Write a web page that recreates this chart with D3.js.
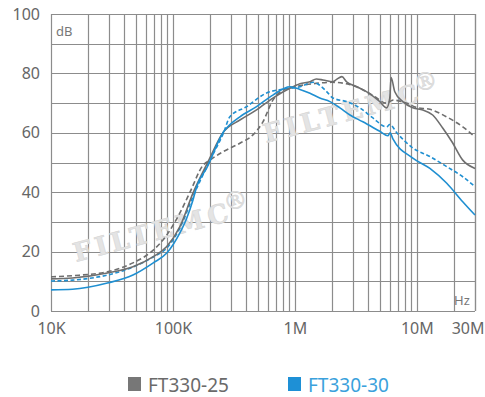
<!DOCTYPE html>
<html>
<head>
<meta charset="utf-8">
<script src="https://cdn.jsdelivr.net/npm/d3@7"></script>
<style>
  html, body { margin: 0; padding: 0; background: #fff; }
  svg text { font-family: "Noto Sans", "DejaVu Sans", sans-serif; }
</style>
</head>
<body>
<div id="chart"></div>
<script>
// frequency (Hz) / attenuation (dB)
const ft25SolidFreq = [1e4, 1.5e4, 2.9e4, 4.7e4, 6.9e4, 8.9e4, 1.14e5, 1.46e5, 1.97e5, 2.57e5, 3.54e5, 4.85e5, 6.6e5, 9.1e5, 1.1e6, 1.33e6, 1.5e6, 1.7e6, 2.05e6, 2.2e6, 2.43e6, 2.65e6, 3.22e6, 3.89e6, 4.97e6, 5.65e6, 6.0e6, 6.15e6, 6.6e6, 7.67e6, 9.27e6, 1.12e7, 1.35e7, 1.63e7, 1.94e7, 2.38e7, 3e7];
const ft25SolidDb   = [10.8, 11.1, 12.8, 14.9, 18.3, 21.7, 28.4, 39.7, 50.8, 60, 64.3, 67.7, 71.7, 75, 76.5, 77.2, 78.1, 77.8, 77.2, 78, 78.9, 77.2, 75.5, 73.8, 70.5, 68.4, 71.7, 78.6, 73.8, 70.5, 68.4, 67.7, 66, 61.6, 57, 50.8, 48];

const ft25DashFreq = [1e4, 1.5e4, 2.9e4, 4.7e4, 6.9e4, 8.9e4, 1.14e5, 1.38e5, 1.76e5, 2.01e5, 2.57e5, 3.54e5, 4.53e5, 5.47e5, 6.6e5, 8e5, 1.0e6, 1.4e6, 2e6, 2.8e6, 3.6e6, 4.4e6, 5.6e6, 6.4e6, 8.2e6, 1.0e7, 1.28e7, 1.75e7, 2.38e7, 3e7];
const ft25DashDb   = [11.5, 11.9, 13.2, 16.2, 20.5, 25.6, 33, 40, 49, 50.8, 53.6, 56.5, 59.3, 63.7, 71, 74.4, 75.5, 76.5, 77, 76.3, 74.5, 72.5, 70, 71, 70, 68.5, 67.9, 65.4, 62, 58.6];

const ft30SolidFreq = [1e4, 1.5e4, 2.9e4, 4.7e4, 6.9e4, 8.9e4, 1.14e5, 1.29e5, 1.46e5, 1.57e5, 1.89e5, 2.57e5, 3.54e5, 4.85e5, 6.6e5, 9.1e5, 1.1e6, 1.33e6, 1.6e6, 1.94e6, 2.34e6, 2.83e6, 3.61e6, 4.97e6, 5.78e6, 6.05e6, 6.35e6, 9.27e6, 1.28e7, 1.76e7, 2.38e7, 3e7];
const ft30SolidDb   = [7.1, 7.3, 9.4, 12.1, 16.2, 19.5, 26.3, 31, 37.4, 42, 48.1, 60, 65.4, 68.8, 72.7, 75.5, 74.6, 73.3, 71.7, 70.5, 68.4, 66, 63.7, 60.5, 59, 60, 58, 51.5, 48, 43, 36.8, 32.3];

const ft30DashFreq = [1e4, 1.5e4, 2.9e4, 4.7e4, 6.9e4, 8.9e4, 1.14e5, 1.46e5, 1.97e5, 2.6e5, 2.93e5, 4.02e5, 5.86e5, 8e5, 1.1e6, 1.41e6, 1.6e6, 1.83e6, 2.05e6, 2.65e6, 3.41e6, 4.36e6, 5.65e6, 6.0e6, 6.85e6, 9.27e6, 1.28e7, 1.76e7, 2.38e7, 3e7];
const ft30DashDb   = [10.1, 10.4, 12.1, 14.8, 18.2, 21.2, 27.9, 38.5, 50, 60, 65.4, 68.8, 73.4, 74.7, 75.5, 77, 76, 73.8, 71.7, 70.5, 68.4, 65, 62, 62.8, 60, 54.9, 52, 48.6, 45.2, 41.9];

const yTicks = [0, 20, 40, 60, 80, 100];
const xTicks = [1e4, 1e5, 1e6, 1e7, 3e7];
const xTickLabels = ['10K', '100K', '1M', '10M', '30M'];
const legendNames = ['FT330-25', 'FT330-30'];

const W = 485, H = 397;
const m = { left: 51, right: 10, top: 14, bottom: 86 };
const gray = '#6e6e6e', blue = '#1f8fd1', gridColor = '#8c8c8c';

const svg = d3.select('#chart').append('svg')
  .attr('width', W).attr('height', H);

const x = d3.scaleLog().domain([1e4, 3e7]).range([m.left, W - m.right]);
const y = d3.scaleLinear().domain([0, 100]).range([H - m.bottom, m.top]);

// grid: 1..9 per decade, every 10 dB
const vGrid = [];
for (let dec = 1e4; dec <= 1e7; dec *= 10) {
  for (let k = 1; k <= 9; k++) {
    const f = dec * k;
    if (f <= 3e7) vGrid.push(f);
  }
}
vGrid.push(3e7);
const hGrid = d3.range(0, 101, 10);

const grid = svg.append('g').attr('class', 'grid');
grid.selectAll('line.v').data(vGrid).enter().append('line')
  .attr('x1', d => Math.round(x(d)) + 0.5).attr('x2', d => Math.round(x(d)) + 0.5)
  .attr('y1', y(0)).attr('y2', y(100))
  .attr('stroke', gridColor).attr('stroke-width', 1.2);
grid.selectAll('line.h').data(hGrid).enter().append('line')
  .attr('x1', x(1e4)).attr('x2', x(3e7))
  .attr('y1', d => Math.round(y(d)) + 0.5).attr('y2', d => Math.round(y(d)) + 0.5)
  .attr('stroke', gridColor).attr('stroke-width', 1.2);

// watermarks
const wm = svg.append('g').attr('fill', '#e4e4e4')
  .attr('stroke', '#d6d6d6').attr('stroke-width', 0.6);
[[76, 262], [266, 143]].forEach(([tx, ty]) => {
  const g = wm.append('g').attr('transform', `translate(${tx},${ty}) rotate(-15)`);
  g.append('text')
    .attr('font-size', 26).attr('font-weight', 'bold').attr('letter-spacing', 4)
    .style('font-family', '"DejaVu Serif", serif')
    .text('FILTEMC');
  g.append('text')
    .attr('x', 158).attr('y', -10)
    .attr('font-size', 24)
    .style('font-family', '"DejaVu Serif", serif')
    .text('®');
});

// axis labels
const yAxis = svg.append('g')
  .attr('transform', `translate(${m.left},0)`)
  .call(d3.axisLeft(y).tickValues(yTicks).tickSize(0).tickPadding(11));
yAxis.select('.domain').remove();
yAxis.selectAll('text').attr('font-size', 16).attr('fill', '#666')
  .style('font-family', '"Noto Sans", sans-serif');

const xAxis = svg.append('g')
  .attr('transform', `translate(0,${y(0)})`)
  .call(d3.axisBottom(x).tickValues(xTicks).tickSize(0).tickPadding(12)
    .tickFormat((d, i) => xTickLabels[i]));
xAxis.select('.domain').remove();
xAxis.selectAll('text').attr('font-size', 16).attr('fill', '#666')
  .style('font-family', '"Noto Sans", sans-serif');
// keep the last label inside the window
xAxis.selectAll('text').filter(d => d === 3e7)
  .attr('text-anchor', 'end').attr('x', W - 1 - x(3e7));

svg.append('text').attr('x', x(1e4) + 5).attr('y', y(92.5))
  .attr('font-size', 13).attr('fill', '#777').text('dB');
svg.append('text').attr('x', x(2e7) + 0.5).attr('y', y(2))
  .attr('font-size', 13).attr('fill', '#777').text('Hz');

// curves
const lineGen = d3.line().x(d => x(d[0])).y(d => y(d[1])).curve(d3.curveMonotoneX);
const series = [
  { f: ft25DashFreq, v: ft25DashDb, color: gray, dash: '5,3' },
  { f: ft30DashFreq, v: ft30DashDb, color: blue, dash: '4,2.5' },
  { f: ft25SolidFreq, v: ft25SolidDb, color: gray, dash: null },
  { f: ft30SolidFreq, v: ft30SolidDb, color: blue, dash: null }
];
series.forEach(s => {
  svg.append('path')
    .datum(s.f.map((f, i) => [f, s.v[i]]))
    .attr('d', lineGen)
    .attr('fill', 'none')
    .attr('stroke', s.color)
    .attr('stroke-width', 1.6)
    .attr('stroke-dasharray', s.dash);
});

// legend
const legend = svg.append('g');
const legendItems = [
  { name: legendNames[0], sq: '#777', txt: '#6a6a6a', x: 128 },
  { name: legendNames[1], sq: '#1e90d6', txt: '#3aa1dc', x: 288 }
];
legendItems.forEach(d => {
  legend.append('rect').attr('x', d.x).attr('y', 377)
    .attr('width', 13).attr('height', 14).attr('fill', d.sq);
  legend.append('text').attr('x', d.x + 20).attr('y', 392)
    .attr('font-size', 19).attr('fill', d.txt).text(d.name);
});
</script>
</body>
</html>
